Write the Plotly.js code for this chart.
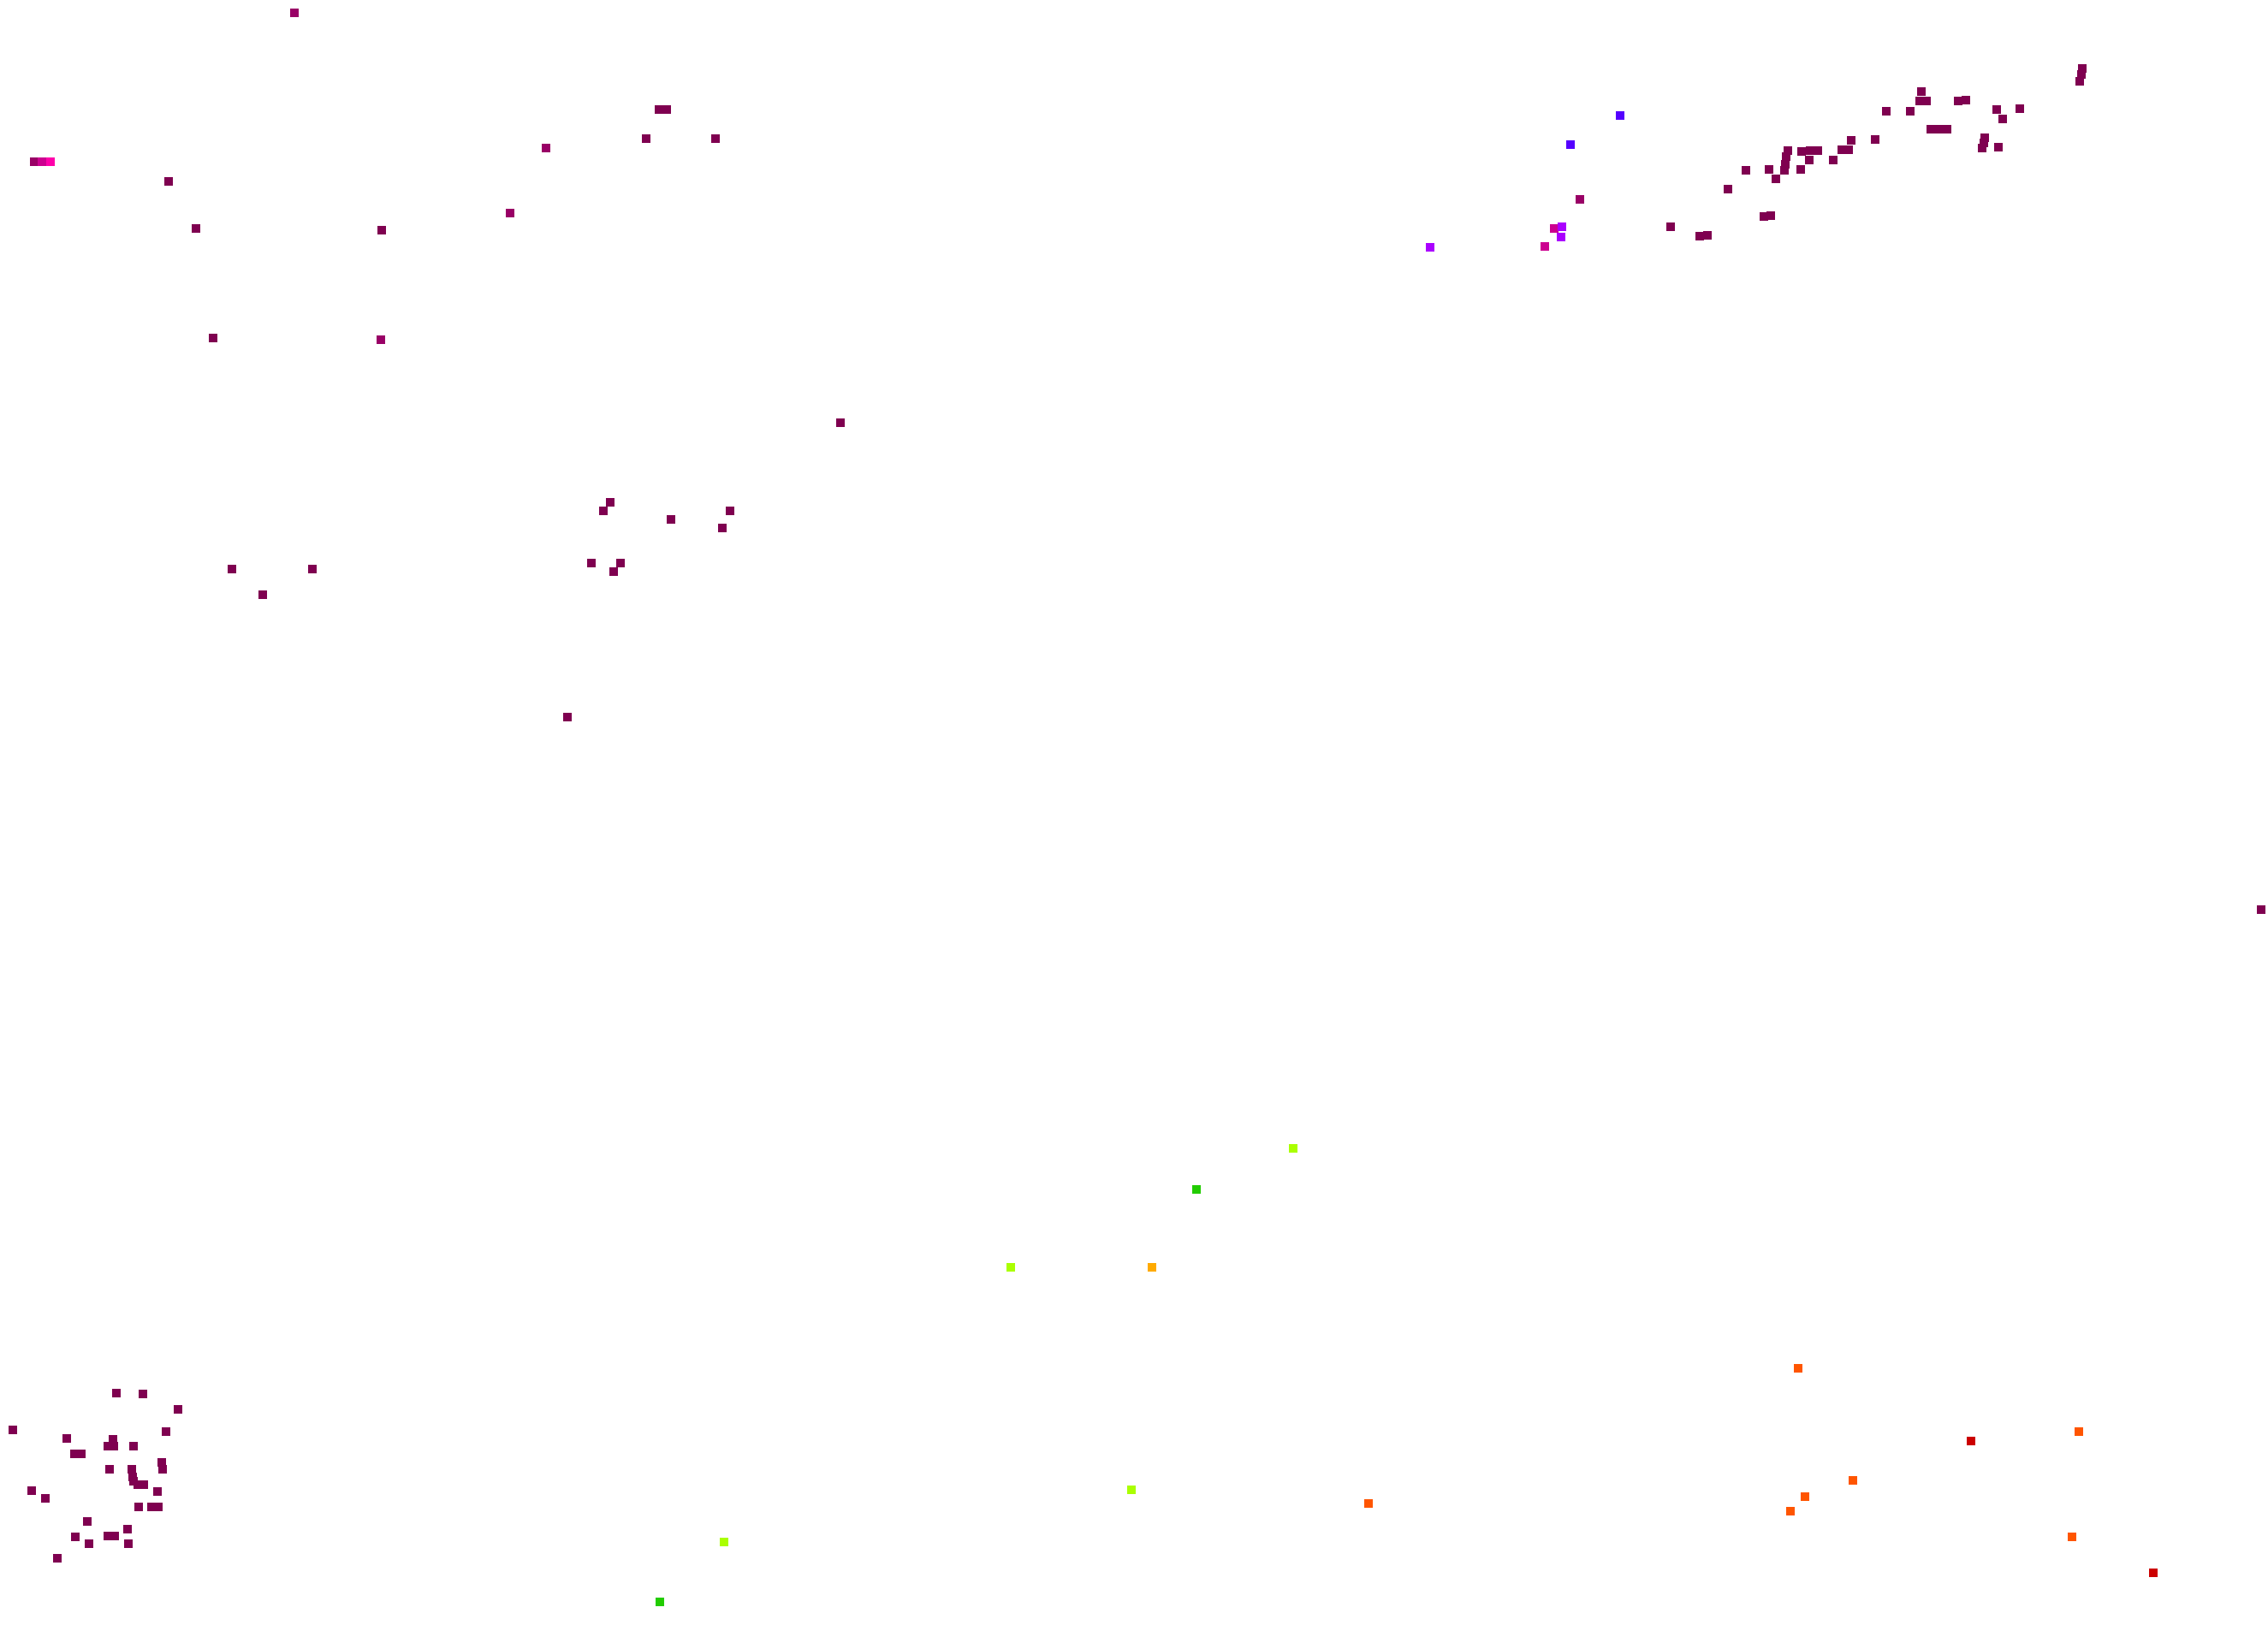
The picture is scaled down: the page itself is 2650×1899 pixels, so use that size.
<!DOCTYPE html>
<html>
<head>
<meta charset="utf-8">
<script src="https://cdn.plot.ly/plotly-3.0.1.min.js"></script>
<style>html,body{margin:0;padding:0;background:#fff;}#chart{width:2650px;height:1899px;}</style>
</head>
<body>
<div id="chart"></div>
<script>
// colour levels (index -> colour)
const palette = ['#cc0000', '#ff5500', '#ffaa00', '#aaff00', '#22cc00', '#5500ff', '#aa00ff', '#ff00aa', '#cc0090', '#990066', '#7f0050'];

// point positions and their colour level
const xs = [
  136,167,208,15,194,78,132,126,133,156,87,95,189,190,128,154,155,156,161,168,184,37,53,162,177,185,102,149,88,126,134,104,150,67,
  2433,2432,2430,2245,2243,2251,2288,2297,2333,2360,2340,2204,2232,2256,2265,2275,2319,2318,2316,2335,2191,2163,2152,2160,2142,2089,2087,2086,2085,2105,2115,2124,2114,2104,2067,2075,2040,2019,2061,2069,1986,1995,1952,
  1893,1835,1846,1816,1825,1824,1805,1671,
  344,40,49,59,197,229,
  2642,
  2101,2303,2429,2165,2109,2092,2421,2516,
  770,779,755,836,638,596,446,249,445,
  982,713,705,853,784,844,271,365,307,691,725,717,663,
  1511,1398,1181,1346,1322,1599,846,771
];
const ys = [
  1628,1629,1647,1671,1673,1681,1682,1690,1690,1690,1699,1699,1709,1717,1717,1717,1726,1731,1735,1735,1743,1742,1751,1761,1761,1761,1778,1787,1796,1795,1795,1804,1804,1821,
  80,87,95,107,118,118,118,117,128,127,139,130,130,151,151,151,161,167,173,172,163,164,175,175,187,176,183,192,199,177,176,176,187,198,198,209,199,221,253,252,276,275,265,
  135,169,233,267,265,277,288,289,
  15,189,189,189,212,267,
  1063,
  1599,1684,1673,1730,1749,1766,1796,1838,
  128,128,162,162,173,249,269,395,397,
  494,587,597,597,607,617,665,665,695,658,658,668,838,
  1342,1390,1481,1481,1741,1757,1802,1872
];
const levels = [
  10,10,10,10,10,10,10,10,10,10,10,10,10,10,10,10,10,10,10,10,10,10,10,10,10,10,10,10,10,10,10,10,10,10,
  10,10,10,10,10,10,10,10,10,10,10,10,10,10,10,10,10,10,10,10,10,10,10,10,10,10,10,10,10,10,10,10,10,10,10,10,10,10,10,10,10,10,10,
  5,5,9,8,6,6,8,6,
  9,9,8,7,10,10,
  10,
  1,0,1,1,1,1,1,0,
  10,10,10,10,9,9,10,10,9,
  10,10,10,10,10,10,10,10,10,10,10,10,10,
  3,4,3,2,3,1,3,4
];

const trace = {
  type: 'scatter',
  mode: 'markers',
  x: xs,
  y: ys,
  marker: {
    symbol: 'square',
    size: 10,
    color: levels.map(l => palette[l]),
    line: {width: 0}
  },
  hoverinfo: 'x+y'
};

const layout = {
  width: 2650,
  height: 1899,
  margin: {l: 0, r: 0, t: 0, b: 0, pad: 0},
  paper_bgcolor: '#ffffff',
  plot_bgcolor: '#ffffff',
  showlegend: false,
  xaxis: {range: [0, 2650], visible: false, showgrid: false, zeroline: false},
  yaxis: {range: [1899, 0], visible: false, showgrid: false, zeroline: false}
};

Plotly.newPlot('chart', [trace], layout, {displayModeBar: false, staticPlot: true});
</script>
</body>
</html>
